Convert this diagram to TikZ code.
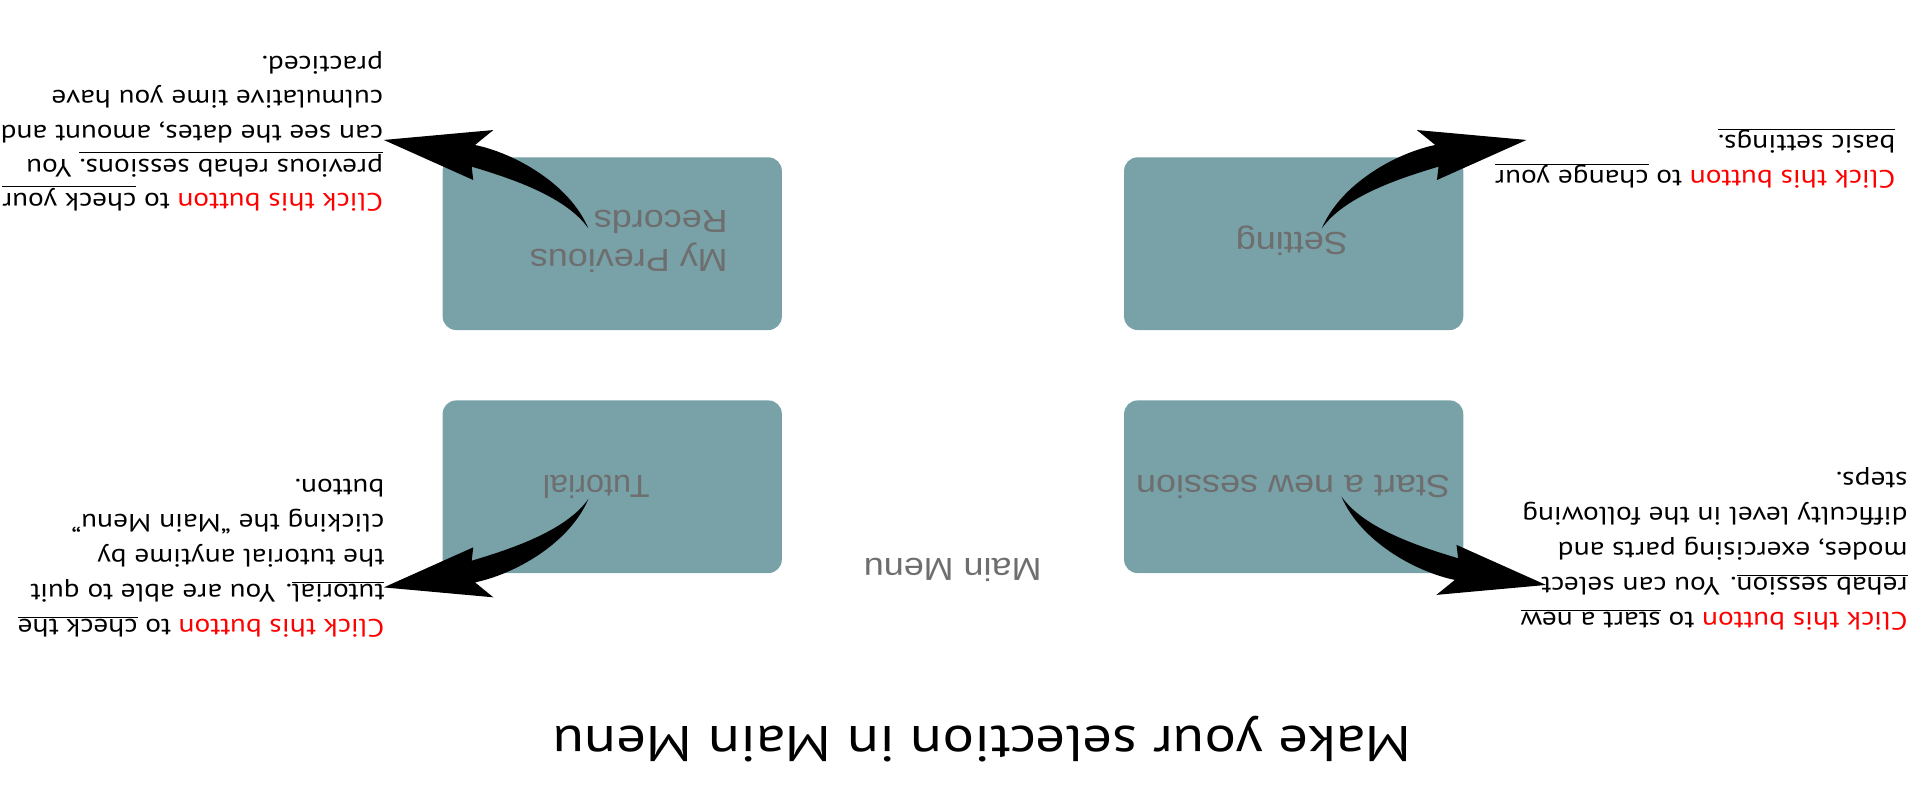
\documentclass[tikz,border=0pt]{standalone}
\usepackage{fontspec}
\setmainfont{PT Sans}[FakeStretch=1.17]
\newfontfamily\labelfont{Liberation Sans}
\definecolor{boxfill}{RGB}{120,161,168}
\definecolor{labelgray}{RGB}{110,110,110}
\newcommand{\helparrowpath}{%
  \fill[black] (480.5,186.5) .. controls (462,160) and (415,145) .. (385.2,136.1)
    -- (386.5,147) -- (313.4,114.3) -- (402.9,106.2) -- (387.9,118.4)
    .. controls (420,125) and (465,150) .. (480.5,186.5) -- cycle;}
\begin{document}
\begin{tikzpicture}[x=1pt,y=-1pt,
  menubox/.style={fill=boxfill, rounded corners=11pt, minimum width=277pt, minimum height=141pt, inner sep=0pt},
  btnlabel/.style={rotate=180, xscale=1.13, text=labelgray, align=left, inner sep=0pt,
    font=\labelfont\fontsize{26}{32}\selectfont},
  helptext/.style={rotate=180, align=left, anchor=north west, inner sep=0pt,
    font=\fontsize{20.5}{#1}\selectfont},
  helptext/.default=28.6,
  titletext/.style={rotate=180, inner sep=0pt, font=\fontsize{41}{48}\selectfont}
]
\useasboundingbox (0,0) rectangle (1568,653.33);

% buttons
\node[menubox] (records) at (500,199) {};
\node[menubox] (setting) at (1056.5,199) {};
\node[menubox] (tutorial) at (500,397.5) {};
\node[menubox] (start) at (1056.5,397.5) {};

\node[btnlabel] (recordslbl) at (513.5,197) {My Previous\\Records};
\node[btnlabel] (settinglbl) at (1055,197) {Setting};
\node[btnlabel, xscale=0.9] (tutoriallbl) at (487,397.5) {Tutorial};
\node[btnlabel] (startlbl) at (1056,397.5) {Start a new session};
\node[btnlabel] (mainmenu) at (778,465) {Main Menu};

% help texts
\node[helptext=27.8] (recordshelp) at (313,172.5) {{\color{red}Click this button} to \underline{check your}\\
\underline{previous rehab sessions.} You\\
can see the dates, amount and\\
culmulative time you have\\
practiced.};
\node[helptext] (settinghelp) at (1548,154.4) {{\color{red}Click this button} to \underline{change your}\\
\underline{basic settings.}};
\node[helptext] (starthelp) at (1558,515) {{\color{red}Click this button} to \underline{start a new}\\
\underline{rehab session}. You can select\\
modes, exercising parts and\\
difficulty level in the following\\
steps.};
\node[helptext] (tutorialhelp) at (314,520.4) {{\color{red}Click this button} to \underline{check the}\\
\underline{tutorial}. You are able to quit\\
the tutorial anytime by\\
clicking the “Main Menu”\\
button.};

% title
\node[titletext] (title) at (802,604) {Make your selection in Main Menu};

% curved arrows
\begin{scope}
  \helparrowpath
\end{scope}
\begin{scope}[shift={(1560,0)}, xscale=-1]
  \helparrowpath
\end{scope}
\begin{scope}[shift={(1576,592)}, xscale=-1, yscale=-1]
  \helparrowpath
\end{scope}
\begin{scope}[shift={(0,594)}, yscale=-1]
  \helparrowpath
\end{scope}
\end{tikzpicture}
\end{document}
